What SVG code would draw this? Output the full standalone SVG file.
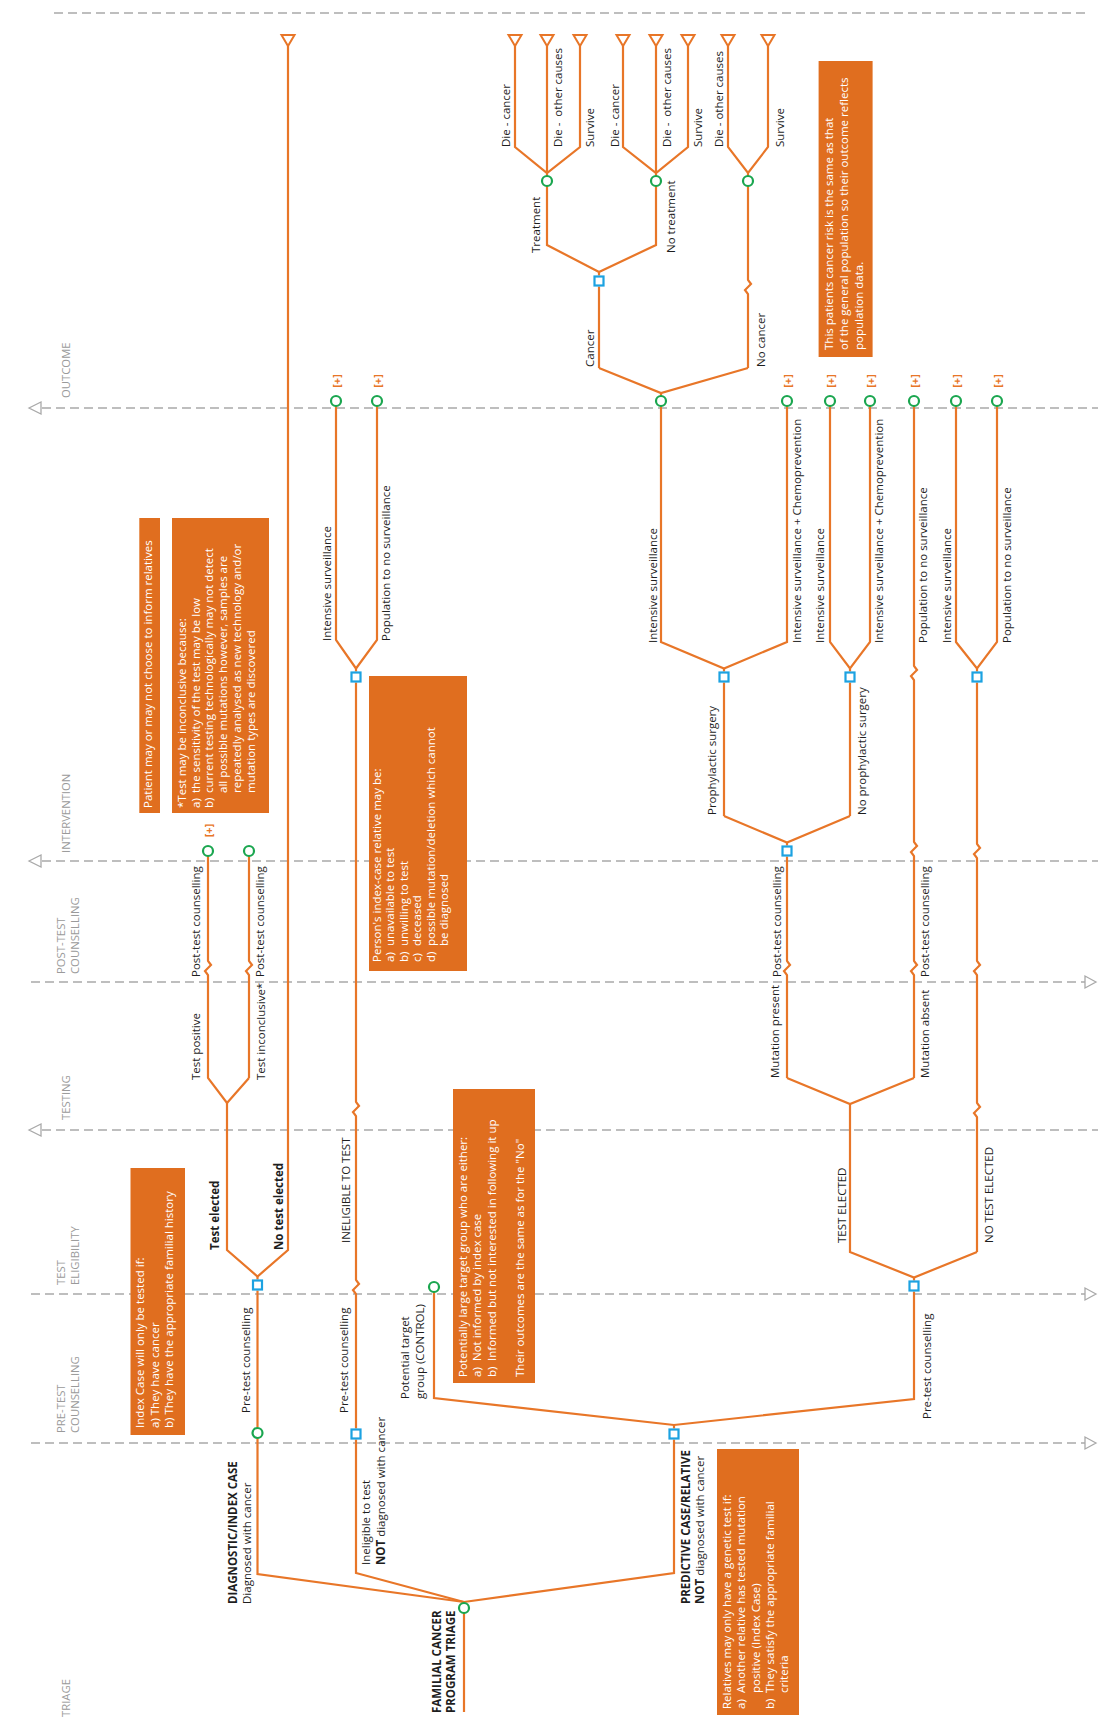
<svg xmlns="http://www.w3.org/2000/svg" width="1103" height="1719" viewBox="0 0 1103 1719">
<style>
.lane{fill:none;stroke:#A9A9A9;stroke-width:1.6;stroke-dasharray:9 5}
.ltri{fill:#fff;stroke:#A9A9A9;stroke-width:1.3}
.ln{fill:none;stroke:#E87628;stroke-width:2.2;stroke-linejoin:miter}
.end{fill:#fff;stroke:#E87628;stroke-width:2}
.ch{fill:#fff;stroke:#1AA64F;stroke-width:2.2}
.sq{fill:#fff;stroke:#1CA2E1;stroke-width:2.2}
.box{fill:#E06E1F}
.t{font-family:"Open Sans","DejaVu Sans",sans-serif;font-size:11.5px;fill:#1E1E1E}
.b{font-weight:bold}
.w{fill:#fff}
.lt{font-family:"Open Sans","DejaVu Sans",sans-serif;font-size:11.3px;fill:#9A9A9A}
.plus{font-family:"Open Sans","DejaVu Sans",sans-serif;font-size:11px;font-weight:bold;fill:#E87628}
</style>

<!-- swimlane boundaries -->
<g id="lanes">
  <path class="lane" d="M54,13H1088"/>
  <path class="lane" d="M42,408H1098"/>
  <polygon class="ltri" points="29,408 41,402 41,414"/>
  <path class="lane" d="M42,861H1098"/>
  <polygon class="ltri" points="29,861 41,855 41,867"/>
  <path class="lane" d="M31,982H1085"/>
  <polygon class="ltri" points="1096,982 1085,976 1085,988"/>
  <path class="lane" d="M42,1130H1098"/>
  <polygon class="ltri" points="29,1130 41,1124 41,1136"/>
  <path class="lane" d="M31,1294H1085"/>
  <polygon class="ltri" points="1096,1294 1085,1288 1085,1300"/>
  <path class="lane" d="M31,1443H1085"/>
  <polygon class="ltri" points="1096,1443 1085,1437 1085,1449"/>
  <text class="lt" transform="translate(69.5 398) rotate(-90)">OUTCOME</text>
  <text class="lt" transform="translate(69.5 853) rotate(-90)">INTERVENTION</text>
  <text class="lt" transform="translate(64.5 974) rotate(-90)"><tspan x="0" y="0">POST-TEST</tspan><tspan x="0" y="14">COUNSELLING</tspan></text>
  <text class="lt" transform="translate(69.5 1120) rotate(-90)">TESTING</text>
  <text class="lt" transform="translate(64.5 1285) rotate(-90)"><tspan x="0" y="0">TEST</tspan><tspan x="0" y="14">ELIGIBILITY</tspan></text>
  <text class="lt" transform="translate(64.5 1433) rotate(-90)"><tspan x="0" y="0">PRE-TEST</tspan><tspan x="0" y="14">COUNSELLING</tspan></text>
  <text class="lt" transform="translate(69.5 1717) rotate(-90)">TRIAGE</text>
</g>

<!-- explanatory notes -->
<g id="note-index-case">
  <rect class="box" x="130.5" y="1168" width="54.5" height="267"/>
  <text class="t w" transform="translate(144 1428) rotate(-90)"><tspan x="0" y="0">Index Case will only be tested if:</tspan><tspan x="0" y="14.5">a) They have cancer</tspan><tspan x="0" y="29">b) They have the appropriate familial history</tspan></text>
</g>
<g id="note-inform">
  <rect class="box" x="139.3" y="518" width="20.7" height="295"/>
  <text class="t w" transform="translate(152 808) rotate(-90)">Patient may or may not choose to inform relatives</text>
</g>
<g id="note-inconclusive">
  <rect class="box" x="172" y="518" width="97" height="295"/>
  <text class="t w" transform="translate(186 808) rotate(-90)"><tspan x="0" y="0">*Test may be inconclusive because:</tspan><tspan x="0" y="13.7">a)</tspan><tspan x="15" y="13.7">the sensitivity of the test may be low</tspan><tspan x="0" y="27.4">b)</tspan><tspan x="15" y="27.4">current testing technologically may not detect</tspan><tspan x="15" y="41.1">all possible mutations however, samples are</tspan><tspan x="15" y="54.8">repeatedly analysed as new technology and/or</tspan><tspan x="15" y="68.5">mutation types are discovered</tspan></text>
</g>
<g id="note-ineligible">
  <rect class="box" x="369" y="676" width="98" height="295"/>
  <text class="t w" transform="translate(381 962) rotate(-90)"><tspan x="0" y="0">Person's index-case relative may be:</tspan><tspan x="0" y="13.4">a)</tspan><tspan x="16" y="13.4">unavailable to test</tspan><tspan x="0" y="26.8">b)</tspan><tspan x="16" y="26.8">unwilling to test</tspan><tspan x="0" y="40.2">c)</tspan><tspan x="16" y="40.2">deceased</tspan><tspan x="0" y="53.6">d)</tspan><tspan x="16" y="53.6">possible mutation/deletion which cannot</tspan><tspan x="16" y="67">be diagnosed</tspan></text>
</g>
<g id="note-control">
  <rect class="box" x="453" y="1089" width="82" height="294"/>
  <text class="t w" transform="translate(467 1377) rotate(-90)"><tspan x="0" y="0">Potentially large target group who are either:</tspan><tspan x="0" y="14.3">a)</tspan><tspan x="16" y="14.3">Not informed by index case</tspan><tspan x="0" y="28.6">b)</tspan><tspan x="16" y="28.6">Informed but not interested in following it up</tspan><tspan x="0" y="57.2">Their outcomes are the same as for the "No"</tspan></text>
</g>
<g id="note-relatives">
  <rect class="box" x="717" y="1449" width="82" height="266"/>
  <text class="t w" transform="translate(731 1709) rotate(-90)"><tspan x="0" y="0">Relatives may only have a genetic test if:</tspan><tspan x="0" y="14.25">a)</tspan><tspan x="16" y="14.25">Another relative has tested mutation</tspan><tspan x="16" y="28.5">positive (Index Case)</tspan><tspan x="0" y="42.75">b)</tspan><tspan x="16" y="42.75">They satisfy the appropriate familial</tspan><tspan x="16" y="57">criteria</tspan></text>
</g>
<g id="note-population">
  <rect class="box" x="818.6" y="61" width="54" height="296"/>
  <text class="t w" transform="translate(833 350) rotate(-90)"><tspan x="0" y="0">This patients cancer risk is the same as that</tspan><tspan x="0" y="15">of the general population so their outcome reflects</tspan><tspan x="0" y="30">population data.</tspan></text>
</g>

<!-- branches -->
<g id="connectors">
  <path class="ln" d="M464,1613V1712"/>
  <path class="ln" d="M257.5,1438V1574L464,1602L674,1573V1439.5"/>
  <path class="ln" d="M356,1439.5V1573L464,1602"/>
  <path class="ln" d="M257.5,1290.5V1427.5"/>
  <path class="ln" d="M227,1103V1250L257.5,1276.5L288,1250V46"/>
  <path class="ln" d="M257.5,1276.5V1279.5"/>
  <path class="ln" d="M208,856V961l3,4l-6,6l3,4V1078L227,1103L249,1078"/>
  <path class="ln" d="M249,856V961l3,4l-6,6l3,4V1078"/>
  <path class="ln" d="M356,682.5V1102l3,4l-6,6l3,4V1280l3,4l-6,6l3,4V1428.5"/>
  <path class="ln" d="M336,406V640L356,668.5L377,640V406"/>
  <path class="ln" d="M356,668.5V671.5"/>
  <path class="ln" d="M434,1292V1398L674,1425L914,1399V1291.5"/>
  <path class="ln" d="M674,1425V1428.5"/>
  <path class="ln" d="M850,1104V1252L914,1277.5L977,1252"/>
  <path class="ln" d="M914,1277.5V1280.5"/>
  <path class="ln" d="M977,682.5V844l3,4l-6,6l3,4V961l3,4l-6,6l3,4V1103l3,4l-6,6l3,4V1252"/>
  <path class="ln" d="M787,1078L850,1104L914,1078"/>
  <path class="ln" d="M787,856.5V961l3,4l-6,6l3,4V1078"/>
  <path class="ln" d="M914,406V666l3,4l-6,6l3,4V842l3,4l-6,6l3,4V961l3,4l-6,6l3,4V1078"/>
  <path class="ln" d="M724,816L787,842.5L850,816"/>
  <path class="ln" d="M787,842.5V845.5"/>
  <path class="ln" d="M724,682.5V816M850,682.5V816"/>
  <path class="ln" d="M661,406V642L724,668.5L787,642V406"/>
  <path class="ln" d="M724,668.5V671.5"/>
  <path class="ln" d="M830,406V642L850,668.5L870,642V406"/>
  <path class="ln" d="M850,668.5V671.5"/>
  <path class="ln" d="M956,406V642L977,668.5L997,642V406"/>
  <path class="ln" d="M977,668.5V671.5"/>
  <path class="ln" d="M599,368L661,393L748,368"/>
  <path class="ln" d="M661,393V396"/>
  <path class="ln" d="M599,286.5V368"/>
  <path class="ln" d="M748,186V280l3,4l-6,6l3,4V368"/>
  <path class="ln" d="M547,186V245L599,272L656,245V186"/>
  <path class="ln" d="M599,272V275.5"/>
  <path class="ln" d="M515,46V147L547,173L580,147V46M547,46V176"/>
  <path class="ln" d="M623,46V147L656,173L688,147V46M656,46V176"/>
  <path class="ln" d="M728,46V147L748,173L768,147V46M748,173V176"/>
  <!-- terminal outcomes -->
  <polygon class="end" points="281.5,35 294.5,35 288,46"/>
  <polygon class="end" points="508.5,35 521.5,35 515,46"/>
  <polygon class="end" points="540.5,35 553.5,35 547,46"/>
  <polygon class="end" points="573.5,35 586.5,35 580,46"/>
  <polygon class="end" points="616.5,35 629.5,35 623,46"/>
  <polygon class="end" points="649.5,35 662.5,35 656,46"/>
  <polygon class="end" points="681.5,35 694.5,35 688,46"/>
  <polygon class="end" points="721.5,35 734.5,35 728,46"/>
  <polygon class="end" points="761.5,35 774.5,35 768,46"/>
</g>

<!-- branch labels -->
<g id="edge-labels">
  <text class="t" transform="translate(250 1413) rotate(-90)">Pre-test counselling</text>
  <text class="t" transform="translate(348 1413) rotate(-90)">Pre-test counselling</text>
  <text class="t" transform="translate(931 1419) rotate(-90)">Pre-test counselling</text>
  <text class="t b" transform="translate(219 1250) rotate(-90)">Test elected</text>
  <text class="t b" transform="translate(283 1250) rotate(-90)">No test elected</text>
  <text class="t" transform="translate(350 1243) rotate(-90)">INELIGIBLE TO TEST</text>
  <text class="t" transform="translate(845.5 1243) rotate(-90)">TEST ELECTED</text>
  <text class="t" transform="translate(992.5 1243) rotate(-90)">NO TEST ELECTED</text>
  <text class="t" transform="translate(200 1080) rotate(-90)">Test positive</text>
  <text class="t" transform="translate(200 977) rotate(-90)">Post-test counselling</text>
  <text class="t" transform="translate(265 1080) rotate(-90)">Test inconclusive*</text>
  <text class="t" transform="translate(264 977) rotate(-90)">Post-test counselling</text>
  <text class="t" transform="translate(779 1078) rotate(-90)">Mutation present</text>
  <text class="t" transform="translate(781 977) rotate(-90)">Post-test counselling</text>
  <text class="t" transform="translate(929 1078) rotate(-90)">Mutation absent</text>
  <text class="t" transform="translate(929 977) rotate(-90)">Post-test counselling</text>
  <text class="t" transform="translate(716 815) rotate(-90)">Prophylactic surgery</text>
  <text class="t" transform="translate(866 815) rotate(-90)">No prophylactic surgery</text>
  <text class="t" transform="translate(331 641) rotate(-90)">Intensive surveillance</text>
  <text class="t" transform="translate(389.5 641) rotate(-90)">Population to no surveillance</text>
  <text class="t" transform="translate(657 643) rotate(-90)">Intensive surveillance</text>
  <text class="t" transform="translate(801 643) rotate(-90)">Intensive surveillance + Chemoprevention</text>
  <text class="t" transform="translate(824 643) rotate(-90)">Intensive surveillance</text>
  <text class="t" transform="translate(883 643) rotate(-90)">Intensive surveillance + Chemoprevention</text>
  <text class="t" transform="translate(927 643) rotate(-90)">Population to no surveillance</text>
  <text class="t" transform="translate(951 643) rotate(-90)">Intensive surveillance</text>
  <text class="t" transform="translate(1010.5 643) rotate(-90)">Population to no surveillance</text>
  <text class="t" transform="translate(594 367) rotate(-90)">Cancer</text>
  <text class="t" transform="translate(765 367) rotate(-90)">No cancer</text>
  <text class="t" transform="translate(539.5 253) rotate(-90)">Treatment</text>
  <text class="t" transform="translate(675 253) rotate(-90)">No treatment</text>
  <text class="t" transform="translate(510 147) rotate(-90)">Die - cancer</text>
  <text class="t" transform="translate(562 147) rotate(-90)">Die - &#160;other causes</text>
  <text class="t" transform="translate(594 147) rotate(-90)">Survive</text>
  <text class="t" transform="translate(618.5 147) rotate(-90)">Die - cancer</text>
  <text class="t" transform="translate(671 147) rotate(-90)">Die - &#160;other causes</text>
  <text class="t" transform="translate(702 147) rotate(-90)">Survive</text>
  <text class="t" transform="translate(723 147) rotate(-90)">Die - other causes</text>
  <text class="t" transform="translate(784 147) rotate(-90)">Survive</text>
</g>

<!-- decision and chance nodes -->
<g id="n-triage">
  <circle class="ch" cx="464" cy="1608" r="5"/>
  <text class="t b" transform="translate(441 1713) rotate(-90)"><tspan x="0" y="0">FAMILIAL CANCER</tspan><tspan x="0" y="14">PROGRAM TRIAGE</tspan></text>
</g>
<g id="n-diagnostic">
  <circle class="ch" cx="257.5" cy="1433" r="5"/>
  <text class="t" transform="translate(237 1604) rotate(-90)"><tspan x="0" y="0" font-weight="bold">DIAGNOSTIC/INDEX CASE</tspan><tspan x="0" y="13.5">Diagnosed with cancer</tspan></text>
</g>
<g id="n-ineligible">
  <rect class="sq" x="351.5" y="1429.5" width="9" height="9"/>
  <text class="t" transform="translate(370 1565) rotate(-90)"><tspan x="0" y="0">Ineligible to test</tspan><tspan x="0" y="15"><tspan font-weight="bold">NOT</tspan> diagnosed with cancer</tspan></text>
</g>
<g id="n-predictive">
  <rect class="sq" x="669.5" y="1429.5" width="9" height="9"/>
  <text class="t" transform="translate(690 1604) rotate(-90)"><tspan x="0" y="0" font-weight="bold">PREDICTIVE CASE/RELATIVE</tspan><tspan x="0" y="13.5"><tspan font-weight="bold">NOT</tspan> diagnosed with cancer</tspan></text>
</g>
<g id="n-control">
  <circle class="ch" cx="434" cy="1287" r="5"/>
  <text class="t" transform="translate(409 1399) rotate(-90)"><tspan x="0" y="0">Potential target</tspan><tspan x="0" y="15">group (CONTROL)</tspan></text>
</g>
<g id="n-diag-eligibility"><rect class="sq" x="253" y="1280.5" width="9" height="9"/></g>
<g id="n-pred-eligibility"><rect class="sq" x="909.5" y="1281.5" width="9" height="9"/></g>
<g id="n-ineligible-intervention"><rect class="sq" x="351.5" y="672.5" width="9" height="9"/></g>
<g id="n-mutation-present"><rect class="sq" x="782.5" y="846.5" width="9" height="9"/></g>
<g id="n-prophylactic"><rect class="sq" x="719.5" y="672.5" width="9" height="9"/></g>
<g id="n-no-prophylactic"><rect class="sq" x="845.5" y="672.5" width="9" height="9"/></g>
<g id="n-no-test"><rect class="sq" x="972.5" y="672.5" width="9" height="9"/></g>
<g id="n-cancer"><rect class="sq" x="594.5" y="276.5" width="9" height="9"/></g>
<g id="n-test-positive"><circle class="ch" cx="208" cy="851" r="5"/><text class="plus" text-anchor="middle" dominant-baseline="central" transform="translate(208 830.5) rotate(-90)">[+]</text></g>
<g id="n-test-inconclusive"><circle class="ch" cx="249" cy="851" r="5"/></g>
<g id="n-out-1"><circle class="ch" cx="336" cy="401" r="5"/><text class="plus" text-anchor="middle" dominant-baseline="central" transform="translate(336 381) rotate(-90)">[+]</text></g>
<g id="n-out-2"><circle class="ch" cx="377" cy="401" r="5"/><text class="plus" text-anchor="middle" dominant-baseline="central" transform="translate(377 381) rotate(-90)">[+]</text></g>
<g id="n-out-3"><circle class="ch" cx="661" cy="401" r="5"/></g>
<g id="n-out-4"><circle class="ch" cx="787" cy="401" r="5"/><text class="plus" text-anchor="middle" dominant-baseline="central" transform="translate(787 381) rotate(-90)">[+]</text></g>
<g id="n-out-5"><circle class="ch" cx="830" cy="401" r="5"/><text class="plus" text-anchor="middle" dominant-baseline="central" transform="translate(830 381) rotate(-90)">[+]</text></g>
<g id="n-out-6"><circle class="ch" cx="870" cy="401" r="5"/><text class="plus" text-anchor="middle" dominant-baseline="central" transform="translate(870 381) rotate(-90)">[+]</text></g>
<g id="n-out-7"><circle class="ch" cx="914" cy="401" r="5"/><text class="plus" text-anchor="middle" dominant-baseline="central" transform="translate(914 381) rotate(-90)">[+]</text></g>
<g id="n-out-8"><circle class="ch" cx="956" cy="401" r="5"/><text class="plus" text-anchor="middle" dominant-baseline="central" transform="translate(956 381) rotate(-90)">[+]</text></g>
<g id="n-out-9"><circle class="ch" cx="997" cy="401" r="5"/><text class="plus" text-anchor="middle" dominant-baseline="central" transform="translate(997 381) rotate(-90)">[+]</text></g>
<g id="n-treatment"><circle class="ch" cx="547" cy="181" r="5"/></g>
<g id="n-no-treatment"><circle class="ch" cx="656" cy="181" r="5"/></g>
<g id="n-no-cancer"><circle class="ch" cx="748" cy="181" r="5"/></g>
</svg>
